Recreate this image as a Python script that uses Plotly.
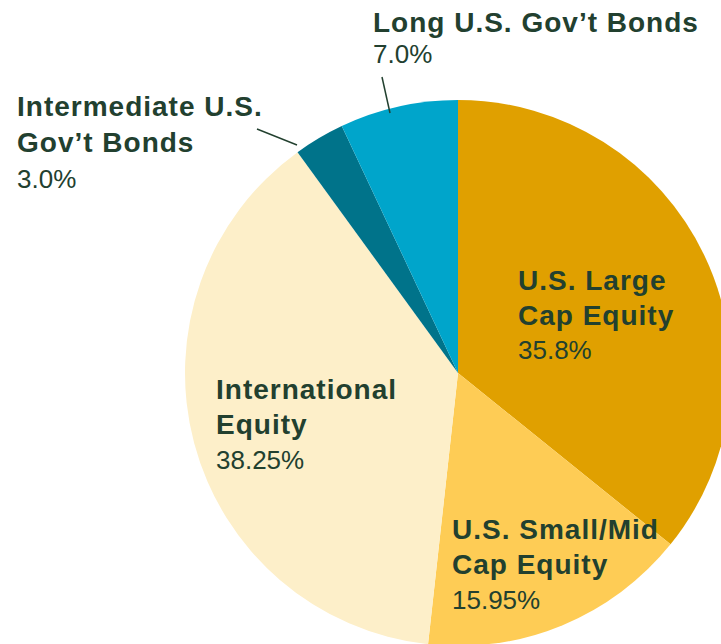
import plotly.graph_objects as go

# ---- data ----
categories = [
    "U.S. Large Cap Equity",
    "U.S. Small/Mid Cap Equity",
    "International Equity",
    "Intermediate U.S. Gov’t Bonds",
    "Long U.S. Gov’t Bonds",
]
values = [35.8, 15.95, 38.25, 3.0, 7.0]
label_lines = [
    ["U.S. Large", "Cap Equity"],
    ["U.S. Small/Mid", "Cap Equity"],
    ["International", "Equity"],
    ["Intermediate U.S.", "Gov’t Bonds"],
    ["Long U.S. Gov’t Bonds"],
]
pct_text = [f"{v}%" for v in values]

# ---- style ----
colors = ["#E0A000", "#FECC55", "#FDEFC9", "#00738A", "#00A5CB"]
TEXT = "#22402F"
FONT = "Liberation Sans, Arial, sans-serif"
W, H = 740, 660  # figure slightly larger than the window: pie is cropped at right/bottom

# label block positions (pixel coords: x left, y of first line centre, line step)
label_pos = [
    (516, 280, 35),
    (450, 529, 35.5),
    (214, 389, 35.5),
    (15, 106, 36.5),
    (371, 22, 32),
]

fig = go.Figure()
fig.add_trace(go.Pie(
    labels=categories,
    values=values,
    sort=False,
    direction="clockwise",
    rotation=0,
    marker=dict(colors=colors, line=dict(width=0)),
    textinfo="none",
    hoverinfo="label+percent",
    showlegend=False,
    domain=dict(x=[185 / W, 731 / W], y=[(H - 646) / H, (H - 100) / H]),
))

# invisible pixel-aligned axes for placing labels
fig.update_xaxes(range=[0, W], visible=False, fixedrange=True)
fig.update_yaxes(range=[H, 0], visible=False, fixedrange=True)

annotations = []
for lines, pct, (x0, y0, step) in zip(label_lines, pct_text, label_pos):
    rows = [(f"<b><span style='letter-spacing:1px;font-size:28px'>{t}</span></b>") for t in lines] + [pct]
    for i, r in enumerate(rows):
        annotations.append(dict(
            x=x0, y=y0 + i * step, xref="x", yref="y",
            text=r, showarrow=False, xanchor="left", yanchor="middle",
            font=dict(family=FONT, size=26, color=TEXT),
        ))

shapes = [
    dict(type="line", xref="x", yref="y", x0=382, y0=77, x1=390, y1=113,
         line=dict(color=TEXT, width=1.5)),
    dict(type="line", xref="x", yref="y", x0=257, y0=129, x1=297, y1=145,
         line=dict(color=TEXT, width=1.5)),
]

fig.update_layout(
    width=W, height=H,
    margin=dict(l=0, r=0, t=0, b=0),
    paper_bgcolor="white", plot_bgcolor="rgba(0,0,0,0)",
    annotations=annotations, shapes=shapes,
)

fig.write_html(
    "out.html",
    config={"displayModeBar": False},
    post_script="document.body.style.margin='0';document.body.style.overflow='hidden';",
)
